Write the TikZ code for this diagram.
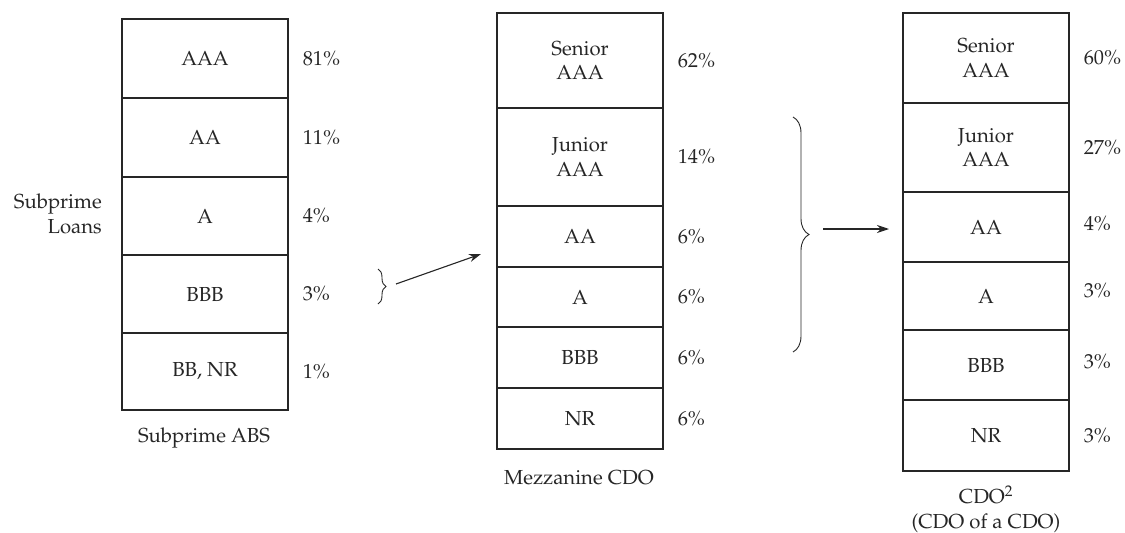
\documentclass[tikz,border=0pt]{standalone}
\usepackage[T1]{fontenc}
\usepackage{mathpazo}
\usetikzlibrary{arrows.meta,decorations.pathreplacing}
\newcommand\mkrow[5]{\node[tranche, minimum height={#4-#3}] (#1) at (#2,{(#3+#4)/2}) {#5};}
\begin{document}
\begin{tikzpicture}[x=1pt,y=-1pt,
  txt/.style={font=\fontsize{20.3}{24.5}\selectfont, text=black!85},
  tranche/.style={txt, draw=black!85, line width=1.2pt, minimum width=166pt, inner sep=0pt, align=center},
  pct/.style={txt, anchor=west, inner sep=0pt},
  lbl/.style={txt, inner sep=0pt, align=center},
  arr/.style={draw=black!85, line width=1.1pt, -{Stealth[length=12pt,width=8pt]}},
  brc/.style={draw=black!85, line width=0.9pt, decorate}]
\useasboundingbox (0,0) rectangle (1125,533);
% column 1
\mkrow{a1}{205}{19}{98}{AAA}
\mkrow{a2}{205}{98}{177}{AA}
\mkrow{a3}{205}{177}{255}{A}
\mkrow{a4}{205}{255}{333}{BBB}
\mkrow{a5}{205}{333}{410}{BB, NR}
\node[pct] (pa1) at ([xshift=14pt]a1.east) {81\%};
\node[pct] (pa2) at ([xshift=14pt]a2.east) {11\%};
\node[pct] (pa3) at ([xshift=14pt]a3.east) {4\%};
\node[pct] (pa4) at ([xshift=14pt]a4.east) {3\%};
\node[pct] (pa5) at ([xshift=14pt]a5.east) {1\%};
\node[lbl, align=right, anchor=east] (loans) at (102,214) {Subprime\\Loans};
\node[lbl] (abs) at (204,438) {Subprime ABS};
% column 2
\mkrow{b1}{580}{13}{108}{Senior\\AAA}
\mkrow{b2}{580}{108}{206}{Junior\\AAA}
\mkrow{b3}{580}{206}{267}{AA}
\mkrow{b4}{580}{267}{327}{A}
\mkrow{b5}{580}{327}{388}{BBB}
\mkrow{b6}{580}{388}{449}{NR}
\node[pct] (pb1) at ([xshift=14pt]b1.east) {62\%};
\node[pct] (pb2) at ([xshift=14pt]b2.east) {14\%};
\node[pct] (pb3) at ([xshift=14pt]b3.east) {6\%};
\node[pct] (pb4) at ([xshift=14pt]b4.east) {6\%};
\node[pct] (pb5) at ([xshift=14pt]b5.east) {6\%};
\node[pct] (pb6) at ([xshift=14pt]b6.east) {6\%};
\node[lbl] (mezz) at (579,478) {Mezzanine CDO};
% column 3
\mkrow{c1}{986}{13}{103}{Senior\\AAA}
\mkrow{c2}{986}{103}{192}{Junior\\AAA}
\mkrow{c3}{986}{192}{262}{AA}
\mkrow{c4}{986}{262}{330}{A}
\mkrow{c5}{986}{330}{400}{BBB}
\mkrow{c6}{986}{400}{471}{NR}
\node[pct] (pc1) at ([xshift=14pt]c1.east) {60\%};
\node[pct] (pc2) at ([xshift=14pt]c2.east) {27\%};
\node[pct] (pc3) at ([xshift=14pt,yshift=3pt]c3.east) {4\%};
\node[pct] (pc4) at ([xshift=14pt,yshift=5pt]c4.east) {3\%};
\node[pct] (pc5) at ([xshift=14pt,yshift=3pt]c5.east) {3\%};
\node[pct] (pc6) at ([xshift=14pt]c6.east) {3\%};
\node[lbl] (sq) at (986,509) {CDO\textsuperscript{2}\\(CDO of a CDO)};
% braces and arrows
\coordinate (br1t) at (378,269);
\coordinate (br1b) at (378,304);
\draw[brc, decoration={brace, amplitude=8pt}] (br1t) -- (br1b);
\coordinate (ar1s) at (396,284);
\coordinate (ar1e) at (481,254);
\draw[arr] (ar1s) -- (ar1e);
\coordinate (br2t) at (793,117);
\coordinate (br2b) at (793,352);
\draw[brc, decoration={brace, amplitude=16pt}] (br2t) -- (br2b);
\coordinate (ar2s) at (823,229);
\coordinate (ar2e) at (889,229);
\draw[arr] (ar2s) -- (ar2e);
\end{tikzpicture}
\end{document}
